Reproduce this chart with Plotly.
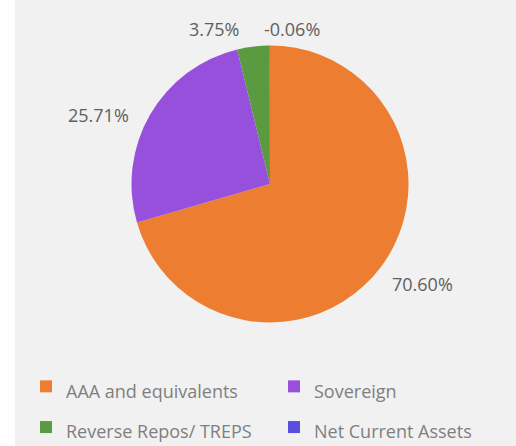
import plotly.graph_objects as go

categories = ["AAA and equivalents", "Sovereign", "Reverse Repos/ TREPS", "Net Current Assets"]
values = [70.60, 25.71, 3.75, -0.06]
label_text = ["70.60%", "25.71%", "3.75%", "-0.06%"]
colors = ["#ED7D31", "#9650DC", "#5A9A41", "#5A4FDC"]

W, H = 516, 446
CX, CY, R = 270, 184, 138.5   # pie centre / radius in px (layout)

FONT = "Open Sans, Lato, sans-serif"
legend_labels = [f"<span style='font-size:18px'>{c}</span>" for c in categories]

fig = go.Figure()
fig.add_trace(go.Pie(
    labels=legend_labels,
    values=[abs(v) for v in values],
    textinfo="none",
    hoverinfo="skip",
    marker=dict(colors=colors, line=dict(width=0)),
    sort=False,
    direction="clockwise",
    rotation=0,
    showlegend=True,
    domain=dict(x=[(CX - R) / W, (CX + R) / W],
                y=[(H - CY - R) / H, (H - CY + R) / H]),
))

# data-label placement (text positions, Excel best-fit look)
label_px = [(422, 284), (98, 115), (214, 29), (292, 29)]
annotations = []
for txt, (px, py) in zip(label_text, label_px):
    annotations.append(dict(
        x=px / W, y=1 - py / H, xref="paper", yref="paper",
        text=txt, showarrow=False, xanchor="center", yanchor="middle",
        font=dict(family=FONT, size=18, color="#5F5F5F"),
    ))

fig.update_layout(
    width=W, height=H,
    margin=dict(l=0, r=0, t=0, b=0, autoexpand=False),
    paper_bgcolor="#FFFFFF",
    font=dict(family=FONT, color="#7F7F7F"),
    legend=dict(
        orientation="h",
        x=26 / W, xanchor="left",
        y=1 - 361 / H, yanchor="top",
        entrywidth=203, entrywidthmode="pixels",
        font=dict(size=29, color="#7F7F7F", family=FONT),
        bgcolor="rgba(0,0,0,0)",
    ),
    shapes=[dict(type="rect", xref="paper", yref="paper", x0=15 / W, x1=1, y0=0, y1=1,
                 fillcolor="#F1F1F1", line=dict(width=0), layer="below")],
    annotations=annotations,
)

fig.write_html(
    "out.html",
    config={"displayModeBar": False},
    post_script="document.body.style.margin='0';document.body.style.overflow='hidden';",
)
